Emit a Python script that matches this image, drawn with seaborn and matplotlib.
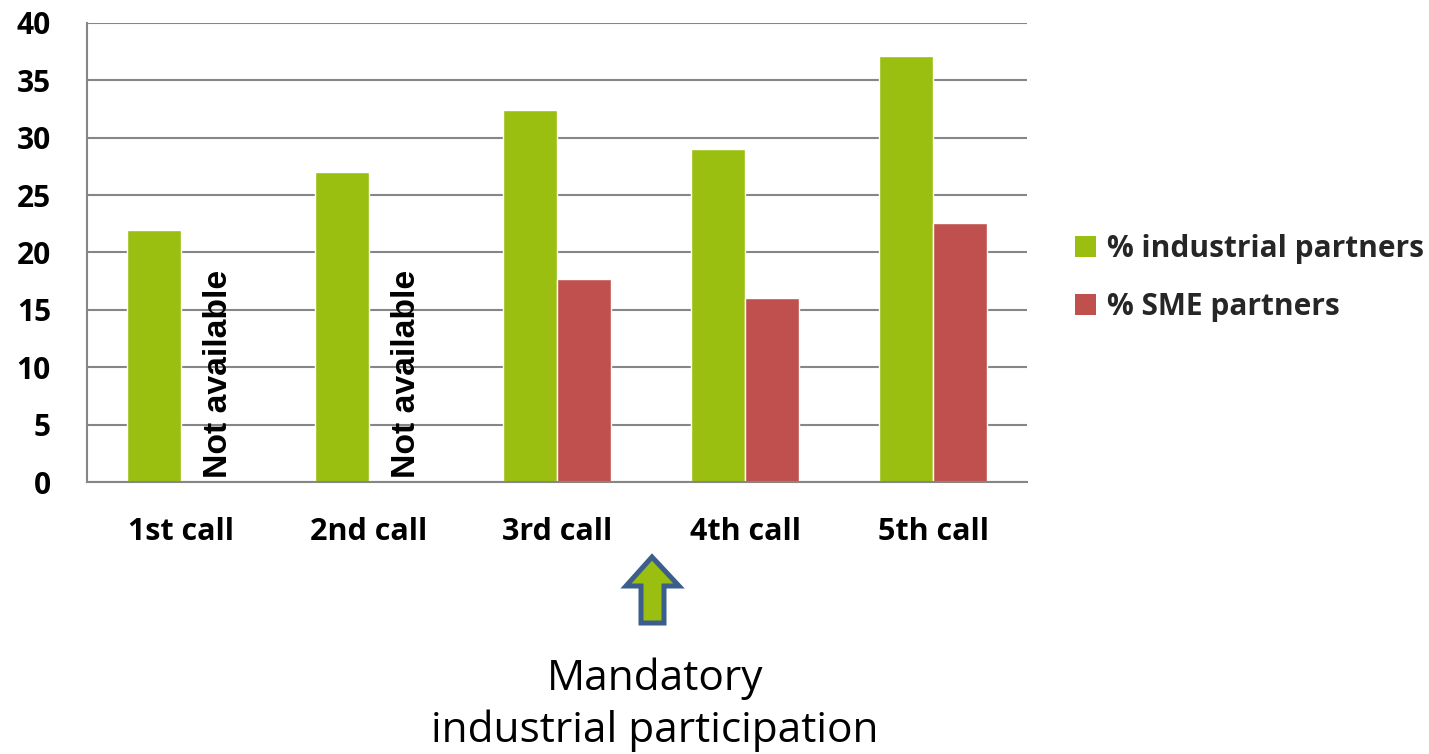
import numpy as np
import pandas as pd
import matplotlib
matplotlib.use("Agg")
import matplotlib.pyplot as plt
from matplotlib.patches import Polygon, Patch
import seaborn as sns

# Share of partners per call (%)
calls = ["1st call", "2nd call", "3rd call", "4th call", "5th call"]
industrial = [22.0, 27.0, 32.4, 29.0, 37.1]
sme = [np.nan, np.nan, 17.7, 16.0, 22.6]
series_names = ["% industrial partners", "% SME partners"]
missing_label = "Not available"
note_text = "Mandatory\nindustrial participation"

GREEN = "#9ABF10"
RED = "#C0504D"
GRID = "#868686"
ARROW_EDGE = "#3B5E8C"

sns.set_theme(style="white")
plt.rcParams["font.family"] = ["Open Sans", "DejaVu Sans"]

df = pd.DataFrame({
    "call": calls * 2,
    "value": industrial + sme,
    "series": [series_names[0]] * len(calls) + [series_names[1]] * len(calls),
})

W, H = 1429, 754
fig = plt.figure(figsize=(W / 100, H / 100), dpi=100)
ax = fig.add_axes([87 / W, 1 - 482 / H, (1027 - 87) / W, (482 - 23) / H])

sns.barplot(data=df, x="call", y="value", hue="series", order=calls,
            hue_order=series_names, palette=[GREEN, RED], width=0.575,
            saturation=1, dodge=True, ax=ax, legend=False)

ax.set_xlim(-0.5, len(calls) - 0.5)
ax.set_ylim(0, 40)
ax.set_yticks(range(0, 41, 5))
ax.set_xlabel("")
ax.set_ylabel("")

# horizontal grid only
ax.yaxis.grid(True, color=GRID, linewidth=1.5)
ax.xaxis.grid(False)
ax.set_axisbelow(True)
for side in ["top", "right"]:
    ax.spines[side].set_visible(False)
for side in ["left", "bottom"]:
    ax.spines[side].set_color(GRID)
    ax.spines[side].set_linewidth(1.5)

ax.tick_params(axis="y", which="major", length=9, width=1.5, color=GRID,
               direction="out", pad=17, labelsize=21.5)
ax.tick_params(axis="x", which="major", length=0, pad=25, labelsize=22)
ax.set_xticks(np.arange(-0.5, len(calls), 1.0), minor=True)
ax.tick_params(axis="x", which="minor", length=9, width=1.5, color=GRID,
               direction="out")
for lab in ax.get_xticklabels() + ax.get_yticklabels():
    lab.set_fontweight("bold")
    lab.set_color("black")

# annotate calls without SME figures
for i, v in enumerate(sme):
    if np.isnan(v):
        ax.text(i + 0.2, 0.35, missing_label, rotation=90, ha="center",
                va="bottom", fontsize=24.3, fontweight="bold",
                family=["Liberation Sans", "DejaVu Sans"], color="black")

# legend
handles = [Patch(facecolor=GREEN, edgecolor="none"),
           Patch(facecolor=RED, edgecolor="none")]
fig.legend(handles, series_names, loc="center left",
           bbox_to_anchor=(1048 / W, 1 - 278 / H), frameon=False,
           prop={"weight": "bold", "size": 21.5}, handlelength=0.7,
           handleheight=0.7, handletextpad=0.38, labelspacing=0.95)

# arrow marking the third call
pts = [(652, 557), (679, 586), (664, 586), (664, 623), (641, 623),
       (641, 586), (626, 586)]
arrow = Polygon([(x / W, 1 - y / H) for x, y in pts], closed=True,
                transform=fig.transFigure, facecolor=GREEN,
                edgecolor=ARROW_EDGE, linewidth=3.6, joinstyle="miter")
fig.add_artist(arrow)

fig.text(655 / W, 1 - 705 / H, note_text, ha="center", va="center",
         fontsize=30.5, linespacing=1.3, color="black")

fig.savefig("out.png", dpi=100, facecolor="white")
